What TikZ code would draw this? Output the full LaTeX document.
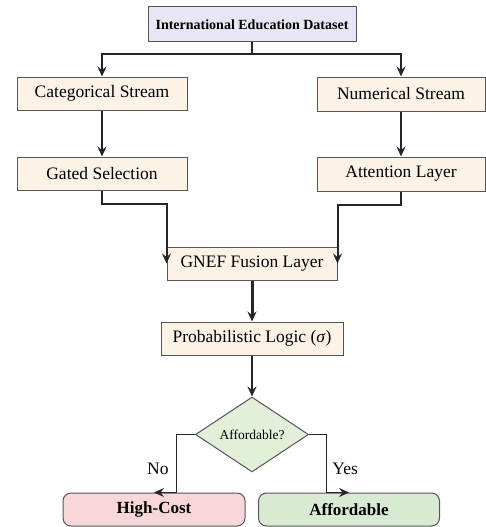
\documentclass[tikz,border=0pt]{standalone}
\usepackage{fontspec}
\setmainfont{Liberation Serif}
\usetikzlibrary{shapes.geometric,arrows.meta}

\definecolor{dataFill}{HTML}{E6E6F5}
\definecolor{streamFill}{HTML}{FDF2E6}
\definecolor{askFill}{HTML}{E2F0D9}
\definecolor{yesFill}{HTML}{D9EAD3}
\definecolor{noFill}{HTML}{F8D7DA}
\definecolor{edgeGray}{HTML}{555555}

\begin{document}
\begin{tikzpicture}[
  x=1pt, y=-1pt,
  every node/.style={inner sep=0pt, font=\fontsize{17.5}{20}\selectfont},
  block/.style={draw=edgeGray, line width=1pt, fill=streamFill, minimum height=33pt},
  titleblock/.style={block, fill=dataFill, minimum height=35pt,
    font=\fontsize{14}{16}\selectfont\bfseries},
  ask/.style={diamond, draw=edgeGray, line width=1pt, fill=askFill,
    minimum width=113pt, minimum height=75pt, font=\fontsize{13.5}{15}\selectfont},
  outcome/.style={block, rounded corners=8pt, font=\fontsize{17}{20}\selectfont\bfseries},
  flow/.style={draw=black!85, line width=2pt, -{Stealth[length=10pt, width=9pt, inset=3.5pt]}},
]
\useasboundingbox (0,0) rectangle (485,527);

%-------------------------------------------------------------
\node[titleblock, minimum width=208pt] (DS) at (252,24.5) {International Education Dataset};

\node[block, minimum width=170pt] (C1) at (102,93.5) {Categorical Stream};
\node[block, minimum width=170pt] (C2) at (102,173.5) {Gated Selection};
\node[block, minimum width=168pt, minimum height=34pt] (N1) at (401,94) {Numerical Stream};
\node[block, minimum width=168pt, minimum height=34pt] (N2) at (401,174) {Attention Layer};

\node[block, minimum width=170pt] (G) at (252,263.5) {GNEF Fusion Layer};
\node[block, minimum width=182pt] (P) at (252,338.5) {Probabilistic Logic (\textit{σ})};

\node[ask] (D) at (252,434.5) {Affordable?};

\node[outcome, minimum width=182pt, fill=noFill] (H) at (154,509.5) {High-Cost};
\node[outcome, minimum width=181pt, fill=yesFill] (A) at (349,509.5) {Affordable};
%-------------------------------------------------------------

\draw[flow] (DS.south) -- ++(0,12) -| (C1.north);
\draw[flow] (DS.south) -- ++(0,12) -| (N1.north);

\draw[flow] (C1) -- (C2);
\draw[flow] (N1) -- (N2);

\draw[flow] (C2.south) -- ++(0,13) -| (G.west);
\draw[flow] (N2.south) -- ++(0,13) -| (G.east);

\draw[flow, line width=3pt] (G) -- (P);
\draw[flow, line width=2.2pt] (P) -- (D);

\draw[flow, line width=1.8pt] (D.west) -- ++(-18.5,0) |- (H.north)
  node[pos=0.3, left=7pt] (no) {No};
\draw[flow, line width=1.8pt] (D.east) -- ++(17.5,0) |- (A.north)
  node[pos=0.3, right=5pt] (yes) {Yes};

\end{tikzpicture}
\end{document}
